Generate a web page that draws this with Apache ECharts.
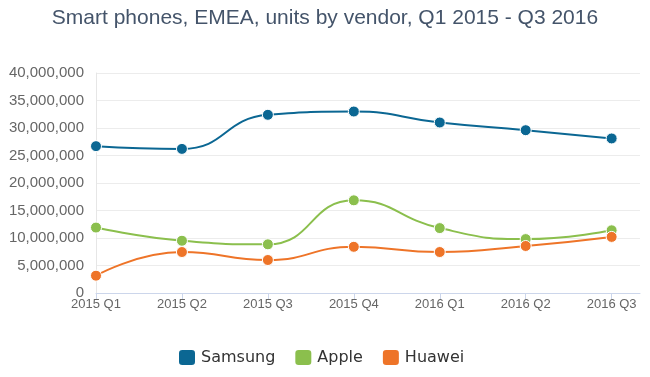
<!DOCTYPE html>
<html>
<head>
<meta charset="utf-8">
<script src="https://cdn.jsdelivr.net/npm/echarts@6/dist/echarts.min.js"></script>
<style>
  html, body { margin: 0; padding: 0; background: #fff; }
  #chart { width: 650px; height: 377px; }
</style>
</head>
<body>
<div id="chart"></div>
<script>
const categories = ['2015 Q1', '2015 Q2', '2015 Q3', '2015 Q4', '2016 Q1', '2016 Q2', '2016 Q3']
const samsung = [26700000, 26200000, 32400000, 33000000, 31000000, 29600000, 28100000]
const apple = [11900000, 9500000, 8850000, 16850000, 11800000, 9800000, 11400000]
const huawei = [3150000, 7450000, 6000000, 8400000, 7450000, 8550000, 10200000]
const yTicks = [0, 5000000, 10000000, 15000000, 20000000, 25000000, 30000000, 35000000, 40000000]

const colors = ['#0b6793', '#8bbf4d', '#ee7428']

const toPoints = arr => arr.map((v, i) => [i, v])

const chart = echarts.init(document.getElementById('chart'))

const makeSeries = (name, data, color) => ({
  name,
  type: 'line',
  smooth: 0.5,
  data: toPoints(data),
  symbol: 'circle',
  symbolSize: 11,
  lineStyle: { width: 2, color },
  itemStyle: { color, borderColor: '#fff', borderWidth: 1 },
})

chart.setOption({
  animation: false,
  title: {
    text: 'Smart phones, EMEA, units by vendor, Q1 2015 - Q3 2016',
    left: 'center',
    top: 3,
    textStyle: { fontFamily: 'Liberation Sans', fontSize: 21, fontWeight: 'normal', color: '#44546a' },
  },
  legend: {
    top: 343,
    left: 172,
    itemWidth: 18,
    itemHeight: 17,
    itemGap: 18,
    icon: 'roundRect',
    textStyle: { fontFamily: 'DejaVu Sans', fontSize: 16, color: '#333' },
    data: ['Samsung', 'Apple', 'Huawei'],
  },
  grid: { left: 96, right: 10, top: 73, bottom: 84 },
  xAxis: {
    type: 'value',
    min: 0,
    max: 6.33,
    interval: 1,
    axisLine: { show: true, lineStyle: { color: '#ccd6eb' } },
    axisTick: { show: true, length: 6, lineStyle: { color: '#ccd6eb' } },
    splitLine: { show: false },
    axisLabel: {
      margin: 5,
      fontFamily: 'Liberation Sans',
      fontSize: 13,
      color: '#666',
      showMaxLabel: false,
      formatter: v => (Number.isInteger(v) ? categories[v] || '' : ''),
    },
  },
  yAxis: {
    type: 'value',
    min: yTicks[0],
    max: yTicks[yTicks.length - 1],
    interval: 5000000,
    axisLine: { show: true, lineStyle: { color: '#e6e6e6' } },
    axisTick: { show: false },
    splitLine: { lineStyle: { color: '#ececec' } },
    axisLabel: {
      margin: 12,
      fontFamily: 'Liberation Sans',
      fontSize: 15,
      color: '#666',
      formatter: v => v.toLocaleString('en-US'),
    },
  },
  series: [
    makeSeries('Samsung', samsung, colors[0]),
    makeSeries('Apple', apple, colors[1]),
    makeSeries('Huawei', huawei, colors[2]),
  ],
})
</script>
</body>
</html>
